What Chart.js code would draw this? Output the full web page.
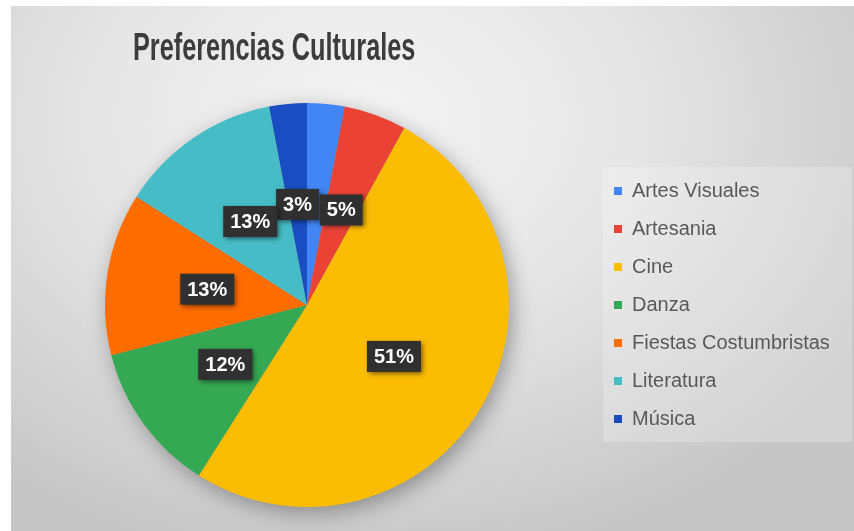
<!DOCTYPE html>
<html>
<head>
<meta charset="utf-8">
<script src="https://cdn.jsdelivr.net/npm/chart.js@4/dist/chart.umd.min.js"></script>
<style>
  html, body { margin: 0; padding: 0; background: #fff; }
  #wrap {
    position: absolute; left: 11px; top: 6px; width: 843px; height: 525px;
    background: radial-gradient(ellipse 70% 85% at 42% 22%, #f4f4f4 0%, #e6e6e6 45%, #cfcfcf 85%, #c6c6c6 100%);
  }
  #title {
    position: absolute; left: 55px; top: 22px; width: 400px; text-align: center;
    font: bold 38px "Liberation Sans", Arial, sans-serif; line-height: 38px;
    color: #3c3c3c; transform: scaleX(0.665); transform-origin: 50% 50%;
    white-space: nowrap;
  }
  canvas { position: absolute; left: 0; top: 0; }
</style>
</head>
<body>
<div id="wrap">
  <canvas id="chart" width="843" height="525"></canvas>
  <div id="title">Preferencias Culturales</div>
</div>
<script>
// Data
const categories = ['Artes Visuales', 'Artesania', 'Cine', 'Danza', 'Fiestas Costumbristas', 'Literatura', 'Música'];
const values = [3, 5, 51, 12, 13, 13, 3];
const colors = ['#4285f4', '#ea4335', '#fbbc04', '#34a853', '#ff6d01', '#46bdc6', '#1a4cc2'];

const FONT = '"Liberation Sans", Arial, sans-serif';

// pie shadow behind all slices
const pieShadow = {
  id: 'pieShadow',
  beforeDatasetsDraw(chart) {
    const arc = chart.getDatasetMeta(0).data[0];
    if (!arc) return;
    const ctx = chart.ctx;
    ctx.save();
    ctx.shadowColor = 'rgba(0,0,0,0.35)';
    ctx.shadowBlur = 22;
    ctx.shadowOffsetX = 4;
    ctx.shadowOffsetY = 6;
    ctx.fillStyle = '#999';
    ctx.beginPath();
    ctx.arc(arc.x, arc.y, arc.outerRadius - 1, 0, Math.PI * 2);
    ctx.fill();
    ctx.restore();
  }
};

// light panel behind the legend
const legendPanel = {
  id: 'legendPanel',
  beforeDraw(chart) {
    const lg = chart.legend;
    if (!lg || !lg.legendHitBoxes || !lg.legendHitBoxes.length) return;
    const first = lg.legendHitBoxes[0];
    const last = lg.legendHitBoxes[lg.legendHitBoxes.length - 1];
    const ctx = chart.ctx;
    ctx.save();
    ctx.fillStyle = 'rgba(255,255,255,0.22)';
    ctx.fillRect(lg.left + 7, first.top - 14, lg.right - lg.left - 9, last.top + last.height - first.top + 27);
    ctx.restore();
  }
};

// Excel-like data labels: dark boxes, labels that overlap a lot are hidden
const dataLabels = {
  id: 'dataLabels',
  afterDatasetsDraw(chart) {
    const meta = chart.getDatasetMeta(0);
    const total = values.reduce((a, b) => a + b, 0);
    const ctx = chart.ctx;
    const placed = [];
    const tol = 8;
    ctx.save();
    ctx.font = 'bold 20px ' + FONT;
    ctx.textAlign = 'center';
    ctx.textBaseline = 'middle';
    for (let i = meta.data.length - 1; i >= 0; i--) {
      const arc = meta.data[i];
      const pos = arc.tooltipPosition();
      const txt = Math.round(values[i] / total * 100) + '%';
      const w = ctx.measureText(txt).width + 14;
      const h = 31;
      const r = { x: pos.x - w / 2, y: pos.y - h / 2, w, h };
      const hit = placed.some(p =>
        r.x + tol < p.x + p.w && r.x + r.w > p.x + tol &&
        r.y + tol < p.y + p.h && r.y + r.h > p.y + tol);
      if (hit) continue;
      placed.push(r);
      ctx.shadowColor = 'rgba(0,0,0,0.55)';
      ctx.shadowBlur = 5;
      ctx.shadowOffsetX = 2;
      ctx.shadowOffsetY = 2;
      ctx.fillStyle = '#303030';
      ctx.fillRect(r.x, r.y, r.w, r.h);
      ctx.shadowColor = 'transparent';
      ctx.fillStyle = '#ffffff';
      ctx.fillText(txt, pos.x, pos.y + 1);
    }
    ctx.restore();
  }
};

// fixed legend width
const legendWidth = {
  id: 'legendWidth',
  beforeInit(chart) {
    const fit = chart.legend.fit;
    chart.legend.fit = function () {
      fit.call(this);
      this.width = 258;
    };
  }
};

new Chart(document.getElementById('chart'), {
  type: 'pie',
  data: {
    labels: categories,
    datasets: [{
      data: values,
      backgroundColor: colors,
      borderWidth: 0
    }]
  },
  options: {
    responsive: false,
    animation: false,
    layout: { padding: { left: 7, right: 0, top: 97, bottom: 24 } },
    plugins: {
      title: { display: false },
      tooltip: { enabled: false },
      legend: {
        position: 'right',
        align: 'center',
        labels: {
          boxWidth: 8,
          boxHeight: 8,
          padding: 18,
          color: '#595959',
          font: { size: 20, family: FONT }
        }
      }
    }
  },
  plugins: [legendWidth, legendPanel, pieShadow, dataLabels]
});
</script>
</body>
</html>
